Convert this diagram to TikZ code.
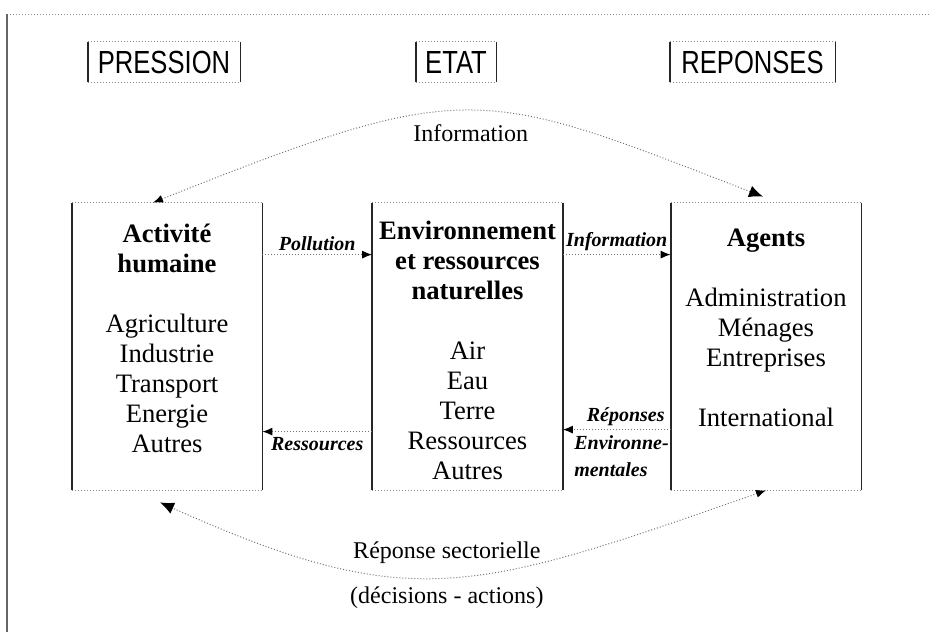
\documentclass[tikz,border=0pt]{standalone}
\usepackage{fontspec}
\setmainfont{Liberation Serif}
\setsansfont{Liberation Sans}
\usepackage{graphicx}
\usetikzlibrary{arrows.meta}
\usetikzlibrary{positioning}
\usetikzlibrary{calc}

\tikzset{
  side/.style = {line width=0.9pt, black!85},
  rim/.style = {line width=0.5pt, densely dotted, black!45},
  hdr/.style = {inner sep=0pt, minimum height=20pt, font=\sffamily\fontsize{16}{18}\selectfont},
  sector/.style = {inner sep=0pt, minimum width=95pt, minimum height=143.5pt},
  sectortxt/.style = {inner sep=0pt, align=center, font=\fontsize{13.3}{15}\selectfont},
  flow/.style = {line width=0.5pt, densely dotted, black!55, -{Latex[length=5pt,width=4pt,color=black]}},
  flowlbl/.style = {inner sep=1.5pt, text=black, font=\bfseries\itshape\fontsize{10}{13.5}\selectfont},
  feedback/.style = {line width=0.5pt, densely dotted, black!55,
    {Latex[length=5pt,width=4pt,color=black]}-{Latex[length=7pt,width=6pt,color=black]}},
  feedlbl/.style = {inner sep=0pt, text=black, font=\fontsize{12}{14}\selectfont}
}

\begin{document}
\begin{tikzpicture}[x=0.5pt, y=-0.5pt]
  \useasboundingbox (0,0) rectangle (931,632);
  % edge of the scanned page
  \draw[rim] (7,14) -- (931,14);
  \draw[side, black!60] (7,14) -- (7,632);

  % headings
  \node[hdr, minimum width=76pt] (pres) at (164,62) {\scalebox{0.8}[1]{PRESSION}};
  \node[hdr, minimum width=40pt] (etat) at (456,62) {\scalebox{0.8}[1]{ETAT}};
  \node[hdr, minimum width=82.5pt] (rep) at (752.5,62) {\scalebox{0.8}[1]{REPONSES}};

  % the three sectors
  \node[sector] (act) at (167,346.5) {};
  \node[sector] (env) at (467.5,346.5) {};
  \node[sector] (agt) at (766,346.5) {};

  \foreach \n in {pres,etat,rep,act,env,agt} {
    \draw[side] (\n.north west) -- (\n.south west) (\n.north east) -- (\n.south east);
    \draw[rim] (\n.north west) -- (\n.north east) (\n.south west) -- (\n.south east);
  }

  \node[sectortxt] (acttxt) at ([yshift=4pt]act.center)
    {\textbf{Activité}\\\textbf{humaine}\\[15pt]Agriculture\\Industrie\\Transport\\Energie\\Autres};
  \node[sectortxt] (envtxt) at ([yshift=-2pt]env.center)
    {\textbf{Environnement}\\\textbf{et ressources}\\\textbf{naturelles}\\[15pt]Air\\Eau\\Terre\\Ressources\\Autres};
  \node[sectortxt] (agttxt) at ([yshift=9.25pt]agt.center)
    {\textbf{Agents}\\[15pt]Administration\\Ménages\\Entreprises\\[15pt]International};

  % flows between the sectors
  \draw[flow] ([yshift=-26pt]act.north east) -- node[flowlbl, above] {Pollution} ([yshift=-26pt]env.north west);
  \draw[flow] ([yshift=-26pt]env.north east) -- node[flowlbl, above] {Information} ([yshift=-26pt]agt.north west);
  \draw[flow] ([yshift=-114.5pt]env.north west) -- node[flowlbl, below, inner sep=2.5pt] {Ressources} ([yshift=-114.5pt]act.north east);
  \draw[flow] ([yshift=-113.5pt]agt.north west) -- node[flowlbl, above, xshift=4.5pt] {Réponses} ([yshift=-113.5pt]env.north east) coordinate (renv);
  \node[flowlbl, inner sep=0pt, align=left, below right=3pt and 5.5pt of renv] (envm) {Environne-\\mentales};

  % information and sector response loops
  \draw[feedback] ([xshift=-7pt]act.north) .. controls (470,76) and (480,87) .. ([xshift=-1.5pt,yshift=3pt]agt.north)
    node[feedlbl, pos=0.5, below=6.5pt] {Information};
  \draw[feedback] (agt.south) .. controls (472,593) and (411,615) .. ([xshift=-3.5pt,yshift=-6pt]act.south)
    node[feedlbl, pos=0.5, above=6.5pt] {Réponse sectorielle}
    node[feedlbl, pos=0.5, below=4.5pt] {(décisions - actions)};
\end{tikzpicture}
\end{document}
